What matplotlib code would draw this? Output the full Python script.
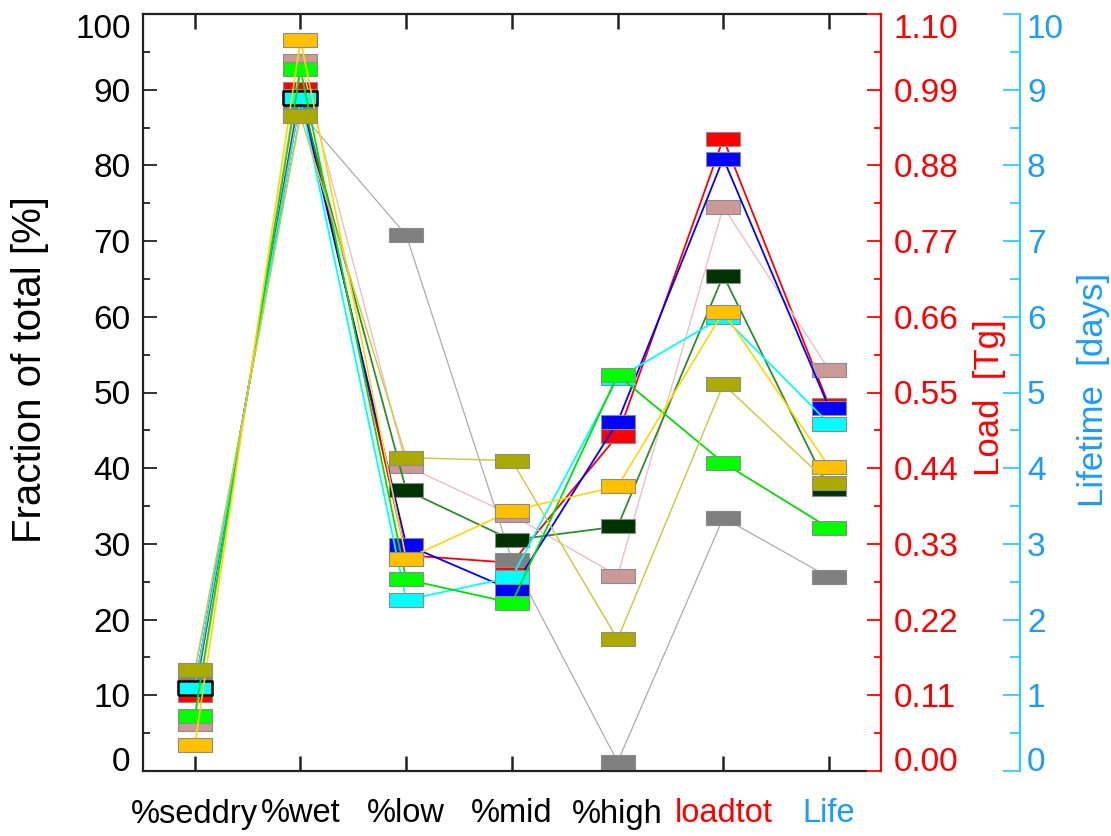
import matplotlib
matplotlib.use('Agg')
import matplotlib.pyplot as plt
import matplotlib.transforms as mtransforms
from matplotlib.ticker import FixedLocator, FormatStrFormatter
import numpy as np

plt.rcParams['font.family'] = ['Liberation Sans', 'DejaVu Sans']

# ---------------- data ----------------
categories = ['%seddry', '%wet', '%low', '%mid', '%high', 'loadtot', 'Life']
category_colors = ['black', 'black', 'black', 'black', 'black', 'red', '#1A9BFF']

# first five values in %, then load [Tg], then lifetime [days]
red_vals       = [10.0, 90.1, 28.5, 27.5, 44.3, 0.919, 4.83]
rosy_vals      = [6.2, 93.8, 40.3, 33.8, 25.8, 0.820, 5.30]
gray_vals      = [13.0, 87.0, 70.8, 27.9, 1.2, 0.368, 2.56]
darkgreen_vals = [10.8, 89.2, 37.1, 30.5, 32.3, 0.720, 3.72]
blue_vals      = [11.0, 89.0, 29.9, 23.9, 46.1, 0.890, 4.80]
cyan_vals      = [11.0, 88.9, 22.6, 25.6, 51.9, 0.660, 4.59]
green_vals     = [7.3, 92.7, 25.3, 22.2, 52.3, 0.448, 3.21]
orange_vals    = [3.4, 96.6, 28.0, 34.4, 37.6, 0.667, 4.02]
olive_vals     = [13.3, 86.5, 41.4, 41.0, 17.4, 0.562, 3.80]

series = [red_vals, rosy_vals, gray_vals, darkgreen_vals, blue_vals,
          cyan_vals, green_vals, orange_vals, olive_vals]
marker_colors = ['#FF0000', '#CC9999', '#808080', '#003300', '#0000FF',
                 '#00FFFF', '#00FF00', '#FFC000', '#AAAA00']
line_colors = ['#FF0000', '#EBC0C0', '#ABABAB', '#2E8B2E', '#0000FF',
               '#00FFFF', '#00E000', '#FFD700', '#CCCC44']
line_widths = [1.3, 1.0, 0.9, 1.3, 1.3, 1.3, 1.3, 1.2, 1.1]

left_ticks = list(range(0, 101, 10))
LOAD_MAX = 1.10
LIFE_MAX = 10.0
load_ticks = np.round(np.arange(11) * 0.11, 2)
life_ticks = list(range(0, 11))

# ---------------- figure ----------------
W, H = 1111, 836
fig = plt.figure(figsize=(W / 100, H / 100), dpi=100)
ax = fig.add_axes([143 / W, 65 / H, 723 / W, 757 / H])

rect = [(-1.28, -0.5), (1.28, -0.5), (1.28, 0.5), (-1.28, 0.5), (-1.28, -0.5)]
x = np.arange(len(categories))


def to_left(vals):
    return list(vals[:5]) + [vals[5] / LOAD_MAX * 100, vals[6] / LIFE_MAX * 100]


for vals, mc, lc, lw in zip(series, marker_colors, line_colors, line_widths):
    y = to_left(vals)
    ax.plot(x, y, color=lc, lw=lw, marker=rect, markersize=24.5,
            markerfacecolor=mc, markeredgecolor='#8C8C8C', markeredgewidth=0.8,
            clip_on=False)
    if vals is cyan_vals:
        # the cyan box is outlined in black at the first two categories
        ax.plot(x[:2], y[:2], ls='none', marker=rect, markersize=24.5,
                markerfacecolor=mc, markeredgecolor='black', markeredgewidth=1.8,
                clip_on=False)

ax.set_xlim(-0.49, 6.35)
ax.set_ylim(0, 100)
ax.spines['right'].set_visible(False)
for s in ['left', 'top', 'bottom']:
    ax.spines[s].set_linewidth(1.6)
    ax.spines[s].set_color('#222222')

ax.set_xticks(x)
ax.set_xticklabels([])
ax.tick_params(axis='x', which='both', direction='in', length=11, width=1.8,
               top=True, bottom=True, color='#222222')

ax.yaxis.set_major_locator(FixedLocator(left_ticks))
ax.yaxis.set_minor_locator(FixedLocator(list(range(5, 100, 10))))
ax.tick_params(axis='y', which='major', direction='in', length=10, width=1.3,
               labelsize=24, pad=9, color='#222222')
ax.tick_params(axis='y', which='minor', direction='in', length=5, width=1.3,
               color='#222222')
labs = ax.get_yticklabels()
labs[0].set_va('baseline')
labs[-1].set_va('top')

# category labels
for i, (cat, col) in enumerate(zip(categories, category_colors)):
    tr = mtransforms.blended_transform_factory(ax.transData, fig.transFigure)
    ax.text(i, (H - 814) / H, cat, transform=tr, ha='center', va='center',
            fontsize=23.5, color=col)

# red load axis
ax2 = ax.twinx()
ax2.set_ylim(0, LOAD_MAX)
for s in ['left', 'top', 'bottom']:
    ax2.spines[s].set_visible(False)
ax2.spines['right'].set_position(('axes', (881 - 143) / 723))
ax2.spines['right'].set_color('red')
ax2.spines['right'].set_linewidth(1.6)
ax2.yaxis.set_major_locator(FixedLocator(load_ticks))
ax2.yaxis.set_minor_locator(FixedLocator(np.round(np.arange(10) * 0.11 + 0.055, 3)))
ax2.yaxis.set_major_formatter(FormatStrFormatter('%.2f'))
ax2.tick_params(axis='y', which='major', direction='in', length=10, width=1.3,
                colors='red', labelsize=24, pad=9)
ax2.tick_params(axis='y', which='minor', direction='in', length=5, width=1.3,
                colors='red')
labs = ax2.get_yticklabels()
labs[0].set_va('baseline')
labs[-1].set_va('top')

# blue lifetime axis
ax3 = ax.twinx()
ax3.set_ylim(0, LIFE_MAX)
for s in ['left', 'top', 'bottom']:
    ax3.spines[s].set_visible(False)
ax3.spines['right'].set_position(('axes', (1020 - 143) / 723))
ax3.spines['right'].set_color('#33CCFF')
ax3.spines['right'].set_linewidth(1.6)
ax3.yaxis.set_major_locator(FixedLocator(life_ticks))
ax3.yaxis.set_minor_locator(FixedLocator([i + 0.5 for i in range(10)]))
ax3.tick_params(axis='y', which='major', direction='in', length=12, width=1.3,
                color='#33CCFF', labelcolor='#1A9BFF', labelsize=24, pad=5)
ax3.tick_params(axis='y', which='minor', direction='in', length=7, width=1.3,
                color='#33CCFF')
labs = ax3.get_yticklabels()
labs[0].set_va('baseline')
labs[-1].set_va('top')

# axis titles
fig.text(30 / W, (H - 370) / H, 'Fraction of total [%]', rotation=90,
         ha='center', va='center', fontsize=29)
fig.text(990 / W, (H - 398) / H, 'Load  [Tg]', rotation=90,
         ha='center', va='center', fontsize=25, color='red')
fig.text(1093 / W, (H - 390) / H, 'Lifetime  [days]', rotation=90,
         ha='center', va='center', fontsize=25, color='#1A9BFF')

fig.savefig('out.png', dpi=100)
